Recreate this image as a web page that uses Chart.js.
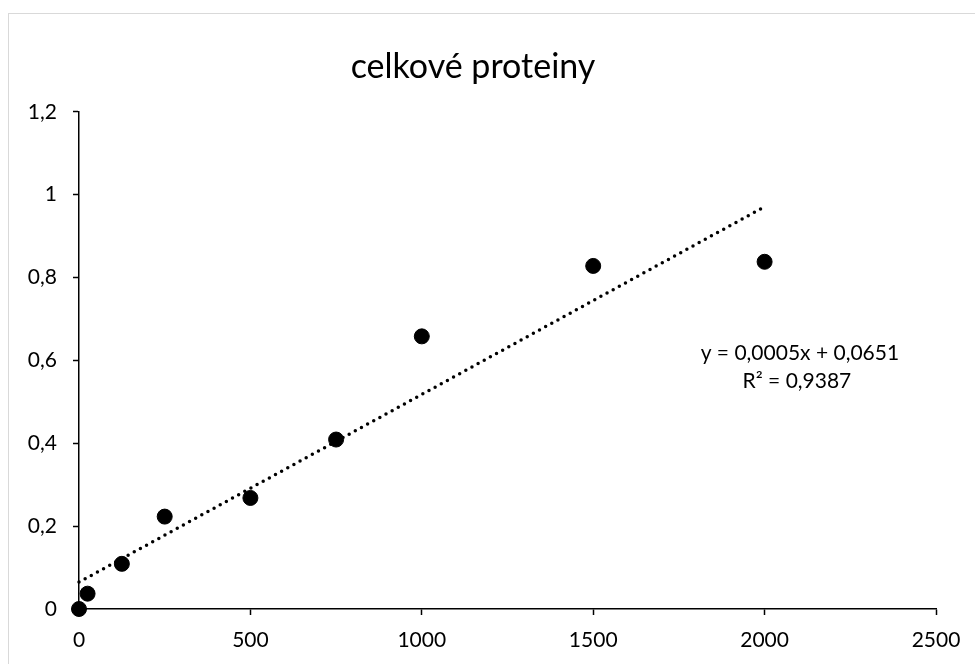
<!DOCTYPE html>
<html>
<head>
<meta charset="utf-8">
<title>celkové proteiny</title>
<script src="https://cdn.jsdelivr.net/npm/chart.js@4.4.1/dist/chart.umd.min.js"></script>
<style>
    html, body { margin: 0; padding: 0; background: #fff; overflow: hidden; }
    #wrap { position: relative; width: 975px; height: 664px; }
    #frame { position: absolute; left: 8px; top: 13px; width: 990px; height: 700px; border: 1px solid #d9d9d9; }
    canvas { position: absolute; left: 0; top: 0; }
</style>
</head>
<body>
<div id="wrap">
    <div id="frame"></div>
    <canvas id="chart" width="975" height="664"></canvas>
</div>
<script>
// koncentrace a absorbance
const concentrations = [0, 25, 125, 250, 500, 750, 1000, 1500, 2000];
const absorbances = [0, 0.037, 0.109, 0.223, 0.268, 0.409, 0.658, 0.828, 0.838];

const xTickMax = 2500;
const xTickStep = 500;
const yTickMax = 1.2;
const yTickStep = 0.2;

const equationLines = ['y = 0,0005x + 0,0651', 'R\u00b2 = 0,9387'];

// lineární trend (nejmenší čtverce)
const n = concentrations.length;
const mx = concentrations.reduce((a, b) => a + b, 0) / n;
const my = absorbances.reduce((a, b) => a + b, 0) / n;
let sxy = 0, sxx = 0;
for (let i = 0; i < n; i++) {
    sxy += (concentrations[i] - mx) * (absorbances[i] - my);
    sxx += (concentrations[i] - mx) * (concentrations[i] - mx);
}
const slope = sxy / sxx;
const intercept = my - slope * mx;
const trendX = [0, concentrations[n - 1]];

const FONT = 'Lato, "Open Sans", sans-serif';

function fmt(v) {
    return String(Math.round(v * 10) / 10).replace('.', ',');
}

const equationLabel = {
    id: 'equationLabel',
    afterDatasetsDraw(chart) {
        const ctx = chart.ctx;
        const x = chart.scales.x.getPixelForValue(2103);
        const y = chart.scales.y.getPixelForValue(0.617);
        ctx.save();
        ctx.fillStyle = '#000';
        ctx.font = '21px ' + FONT;
        ctx.textAlign = 'center';
        ctx.textBaseline = 'middle';
        ctx.fillText(equationLines[0], x, y);
        ctx.fillText(equationLines[1], x - 3, y + 28);
        ctx.restore();
    }
};

new Chart(document.getElementById('chart'), {
    type: 'scatter',
    data: {
        datasets: [
            {
                label: 'celkové proteiny',
                data: concentrations.map((c, i) => ({ x: c, y: absorbances[i] })),
                backgroundColor: '#000',
                borderColor: '#000',
                pointRadius: 7.5,
                pointHoverRadius: 7.5,
                clip: false
            },
            {
                label: 'trend',
                data: trendX.map(c => ({ x: c, y: intercept + slope * c })),
                showLine: true,
                borderColor: '#000',
                borderWidth: 3.5,
                borderDash: [0, 7],
                borderCapStyle: 'round',
                pointRadius: 0,
                clip: false
            }
        ]
    },
    options: {
        responsive: false,
        animation: false,
        layout: { padding: { left: 10, right: 39, top: 0, bottom: 0 } },
        plugins: {
            legend: { display: false },
            tooltip: { enabled: false },
            title: {
                display: true,
                text: 'celkové proteiny',
                color: '#000',
                font: { family: FONT, size: 34, weight: 'normal', lineHeight: 1.2 },
                padding: { top: 47, bottom: 24 }
            }
        },
        scales: {
            x: {
                type: 'linear',
                min: 0,
                max: xTickMax,
                ticks: {
                    stepSize: xTickStep,
                    color: '#000',
                    padding: 13,
                    maxRotation: 0,
                    callback: v => String(v),
                    font: { family: FONT, size: 21 }
                },
                grid: { drawOnChartArea: false, tickLength: 6, tickColor: '#000', tickWidth: 1.5 },
                border: { color: '#000', width: 1.5 },
                afterFit(scale) { scale.height = 55; }
            },
            y: {
                type: 'linear',
                min: 0,
                max: yTickMax,
                ticks: {
                    stepSize: yTickStep,
                    color: '#000',
                    padding: 16,
                    callback: v => fmt(v),
                    font: { family: FONT, size: 21 }
                },
                grid: { drawOnChartArea: false, tickLength: 6, tickColor: '#000', tickWidth: 1.5 },
                border: { color: '#000', width: 1.5 },
                afterFit(scale) { scale.width = 69; }
            }
        }
    },
    plugins: [equationLabel]
});
</script>
</body>
</html>
